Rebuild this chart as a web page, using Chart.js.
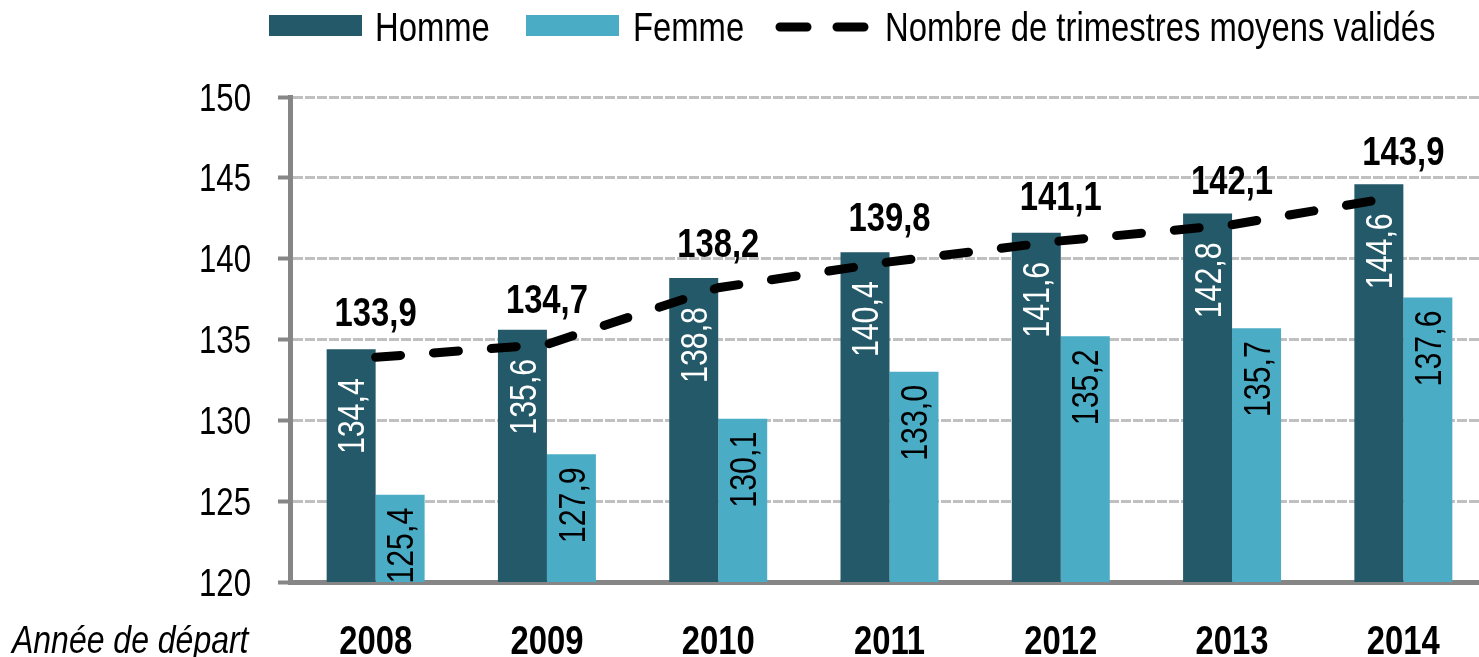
<!DOCTYPE html>
<html lang="fr">
<head>
    <meta charset="UTF-8">
    <title>Nombre de trimestres validés</title>
    <script src="https://cdn.jsdelivr.net/npm/chart.js"></script>
    <style>
        body {
            margin: 0;
            overflow: hidden;
            background: #ffffff;
        }
        #chartBox {
            width: 1489px;
            height: 657px;
        }
    </style>
</head>
<body>

<div id="chartBox">
    <canvas id="trimChart"></canvas>
</div>

<script>
    // data
    const years = ['2008', '2009', '2010', '2011', '2012', '2013', '2014'];
    const homme = [134.4, 135.6, 138.8, 140.4, 141.6, 142.8, 144.6];
    const femme = [125.4, 127.9, 130.1, 133.0, 135.2, 135.7, 137.6];
    const moyenne = [133.9, 134.7, 138.2, 139.8, 141.1, 142.1, 143.9];
    const yTicks = [120, 125, 130, 135, 140, 145, 150];

    // no Arial Narrow here, so Liberation Sans squeezed sideways
    const FONT = "'Liberation Sans', Arial, sans-serif";
    const NARROW = 0.82;
    const DARK = '#235968';
    const LIGHT = '#4BACC6';
    const AXIS = '#868686';

    const fmt = v => v.toFixed(1).replace('.', ',');

    function narrowText(c, text, x, y, font, align, angle) {
        c.save();
        c.translate(x, y);
        if (angle) c.rotate(angle);
        c.scale(NARROW, 1);
        c.font = font;
        c.textAlign = align;
        c.fillText(text, 0, 0);
        c.restore();
    }

    // all texts: tick labels, value labels, legend, axis caption
    const labelPlugin = {
        id: 'labels',
        afterDatasetsDraw(chart) {
            const c = chart.ctx;
            const xs = chart.scales.x;
            const ys = chart.scales.y;
            c.save();
            c.textBaseline = 'alphabetic';

            // y tick labels
            c.fillStyle = '#000000';
            yTicks.forEach(v => {
                narrowText(c, String(v), 251, ys.getPixelForValue(v) + 13.5, '38px ' + FONT, 'right');
            });

            // x tick labels + caption
            years.forEach((y, i) => {
                narrowText(c, y, xs.getPixelForTick(i), 654, 'bold 40px ' + FONT, 'center');
            });
            narrowText(c, 'Année de départ', 12, 653, 'italic 39px ' + FONT, 'left');

            // rotated labels inside the bars
            [0, 1].forEach(i => {
                const meta = chart.getDatasetMeta(i);
                const ds = chart.data.datasets[i];
                c.fillStyle = i === 0 ? '#ffffff' : '#000000';
                meta.data.forEach((bar, j) => {
                    c.save();
                    c.textBaseline = 'middle';
                    narrowText(c, fmt(ds.data[j]), bar.x + 3, bar.y + (i === 0 ? 29 : 13),
                        '37px ' + FONT, 'right', -Math.PI / 2);
                    c.restore();
                });
            });

            // bold labels above the line points
            c.fillStyle = '#000000';
            chart.getDatasetMeta(2).data.forEach((pt, j) => {
                narrowText(c, fmt(moyenne[j]), pt.x, pt.y - 31, 'bold 40px ' + FONT, 'center');
            });

            // legend
            c.fillStyle = DARK;
            c.fillRect(269, 15, 93, 21);
            c.fillStyle = LIGHT;
            c.fillRect(526, 15, 93, 21);
            c.fillStyle = '#000000';
            narrowText(c, 'Homme', 375, 41, '40px ' + FONT, 'left');
            narrowText(c, 'Femme', 633, 41, '40px ' + FONT, 'left');
            narrowText(c, 'Nombre de trimestres moyens validés', 885, 41, '40px ' + FONT, 'left');
            c.strokeStyle = '#000000';
            c.lineWidth = 9;
            c.lineCap = 'round';
            c.beginPath();
            c.moveTo(780, 27); c.lineTo(807, 27);
            c.moveTo(837, 27); c.lineTo(864, 27);
            c.stroke();

            c.restore();
        }
    };

    const ctx = document.getElementById('trimChart').getContext('2d');
    const trimChart = new Chart(ctx, {
        type: 'bar',
        data: {
            labels: years,
            datasets: [{
                label: 'Homme',
                data: homme,
                backgroundColor: DARK,
                order: 1,
            }, {
                label: 'Femme',
                data: femme,
                backgroundColor: LIGHT,
                order: 1,
            }, {
                type: 'line',
                label: 'Nombre de trimestres moyens validés',
                data: moyenne,
                borderColor: '#000000',
                borderWidth: 9,
                borderDash: [25, 33],
                borderCapStyle: 'round',
                pointRadius: 0,
                tension: 0,
                order: 0,
            }]
        },
        options: {
            responsive: true,
            maintainAspectRatio: false,
            animation: false,
            layout: {
                padding: { top: 97, left: 0, right: 0, bottom: 0 }
            },
            plugins: {
                legend: { display: false },
                tooltip: { enabled: false },
            },
            datasets: {
                bar: {
                    categoryPercentage: 0.572,
                    barPercentage: 1.0,
                }
            },
            scales: {
                x: {
                    grid: { display: false, drawTicks: false },
                    border: { display: true, color: AXIS, width: 5 },
                    ticks: { display: false },
                    afterFit(scale) {
                        scale.height = 75;
                    }
                },
                y: {
                    min: 120,
                    max: 150,
                    afterBuildTicks(scale) {
                        scale.ticks = yTicks.map(v => ({ value: v }));
                    },
                    grid: {
                        color: c => (c.tick && c.tick.value === 120) ? 'rgba(0,0,0,0)' : '#C0C0C0',
                        lineWidth: 3,
                        tickLength: 12,
                        tickColor: AXIS,
                        tickWidth: 4,
                    },
                    border: { display: true, color: AXIS, width: 5, dash: [10, 2] },
                    ticks: { display: false },
                    afterFit(scale) {
                        scale.width = 290;
                    }
                }
            }
        },
        plugins: [labelPlugin]
    });
</script>

</body>
</html>
